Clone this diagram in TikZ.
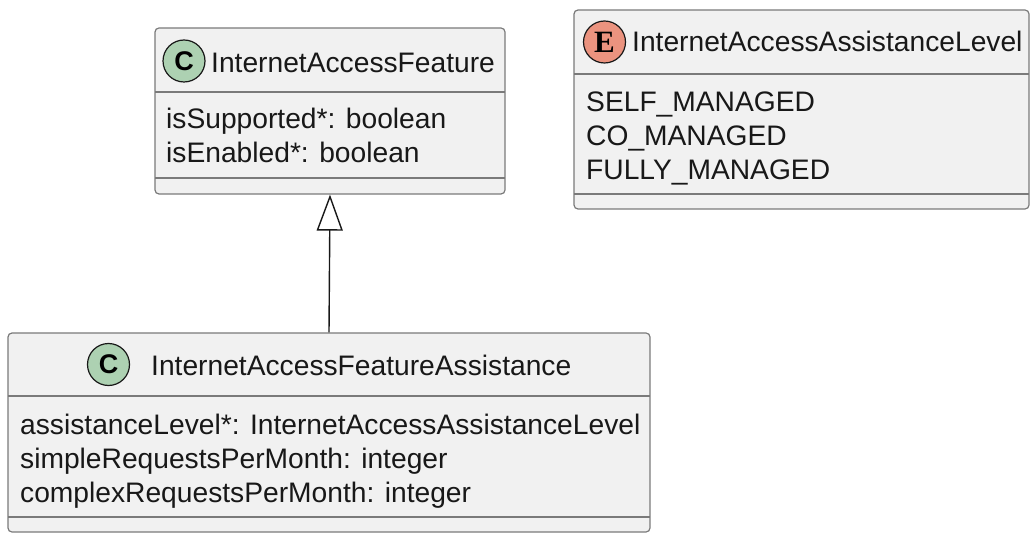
\documentclass[tikz,border=0pt]{standalone}
\usepackage{fontspec}
\setmainfont{Liberation Sans}
\newfontfamily\enumfont{Liberation Serif}
\usetikzlibrary{arrows.meta}
\definecolor{boxfill}{HTML}{F1F1F1}
\definecolor{boxline}{HTML}{7A7A7A}
\definecolor{cgreen}{HTML}{ADD1B2}
\definecolor{ered}{HTML}{EB937F}
\definecolor{ink}{HTML}{181818}
\tikzset{
  umlbox/.style={draw=boxline, fill=boxfill, line width=1.2pt, rounded corners=4pt, inner sep=0pt},
  sepline/.style={draw=boxline, line width=1.2pt},
  txt/.style={anchor=base west, inner sep=0pt, text=ink, font=\fontsize{28.2}{30}\selectfont},
  badge/.style={circle, draw=ink, line width=1.2pt, minimum size=42pt, inner sep=0pt},
  inherit/.style={draw=ink, line width=1.4pt, -{Triangle[open, length=36pt, width=26pt, line width=1.4pt]}}
}
\begin{document}
\begin{tikzpicture}[x=1pt, y=-1pt]
\useasboundingbox (0,0) rectangle (1032,534);
% InternetAccessFeature
\node[umlbox, minimum width=350pt, minimum height=166pt] (b1) at (330,111) {};
\draw[sepline] (155,92) -- (505,92);
\draw[sepline] (155,178) -- (505,178);
\node[badge, fill=cgreen, font=\fontsize{27}{27}\selectfont\bfseries] (c1) at (184,61) {C};
\node[txt] (t1) at (211,73) {InternetAccessFeature};
\node[txt] (a11) at (166,129) {isSupported*: boolean};
\node[txt] (a12) at (166,163) {isEnabled*: boolean};
% InternetAccessAssistanceLevel
\node[umlbox, minimum width=455pt, minimum height=199pt] (b2) at (801.5,109.5) {};
\draw[sepline] (574,74) -- (1029,74);
\draw[sepline] (574,194) -- (1029,194);
\node[badge, fill=ered, font=\fontsize{31}{31}\selectfont\enumfont\bfseries] (e2) at (604.5,42) {E};
\node[txt] (t2) at (632,52) {InternetAccessAssistanceLevel};
\node[txt] (l21) at (586,112) {SELF\_MANAGED};
\node[txt] (l22) at (586,146) {CO\_MANAGED};
\node[txt] (l23) at (586,180) {FULLY\_MANAGED};
% InternetAccessFeatureAssistance
\node[umlbox, minimum width=642pt, minimum height=199pt] (b3) at (329,432.5) {};
\draw[sepline] (8,396) -- (650,396);
\draw[sepline] (8,517) -- (650,517);
\node[badge, fill=cgreen, font=\fontsize{27}{27}\selectfont\bfseries] (c3) at (108.5,364.5) {C};
\node[txt] (t3) at (151,375) {InternetAccessFeatureAssistance};
\node[txt] (a31) at (20,434) {assistanceLevel*: InternetAccessAssistanceLevel};
\node[txt] (a32) at (20,468) {simpleRequestsPerMonth: integer};
\node[txt] (a33) at (20,502) {complexRequestsPerMonth: integer};
% inheritance
\draw[inherit] (b3.north) -- (b1.south);
\end{tikzpicture}
\end{document}
